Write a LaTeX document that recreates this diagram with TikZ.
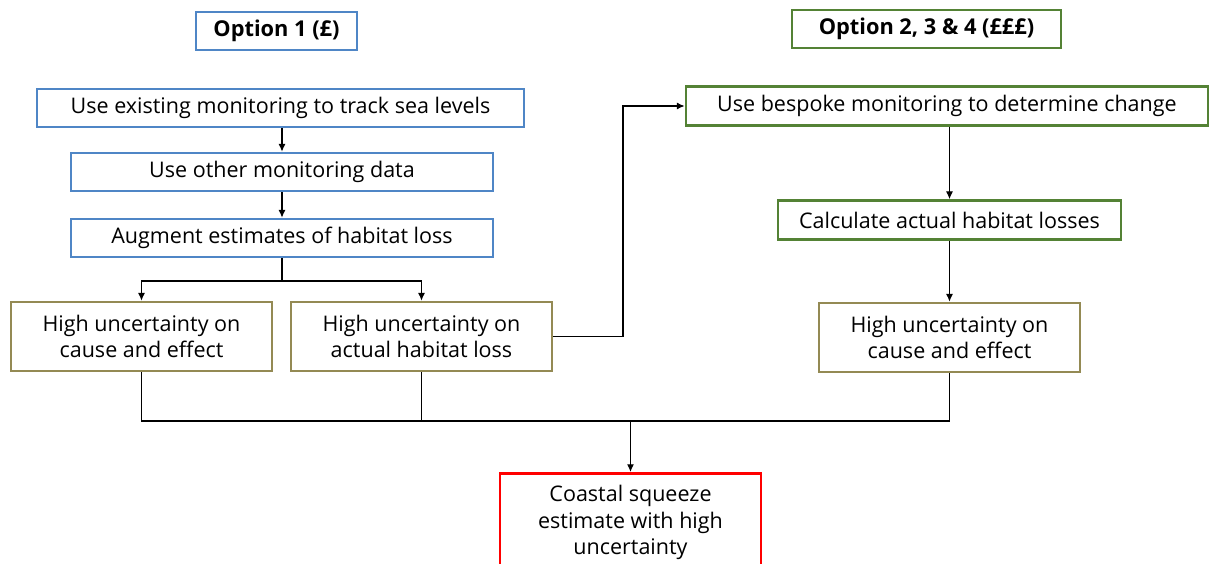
\documentclass[tikz,border=0pt]{standalone}
\usepackage{fontspec}
\setmainfont{Open Sans}
\usetikzlibrary{arrows.meta}
\definecolor{optblue}{HTML}{4F86C6}
\definecolor{optgreen}{HTML}{548235}
\definecolor{optolive}{HTML}{948A54}
\begin{document}
\begin{tikzpicture}
[x=0.025cm,y=-0.025cm,>={Latex[length=5.5pt,width=5pt]},
box/.style={draw,line width=1.9pt,align=center,inner sep=0pt,font=\fontsize{15.3}{19}\selectfont},
bluebox/.style={box,draw=optblue},
greenbox/.style={box,draw=optgreen},
olivebox/.style={box,draw=optolive,minimum width=6.525cm,minimum height=1.725cm},
title/.style={minimum height=0.95cm,font=\fontsize{15.5}{18}\selectfont\bfseries},
link/.style={line width=0.8pt}]
\clip (0,0) rectangle (1210,564);

\node[bluebox,title,minimum width=4.025cm] (opt1) at (276.5,31) {Option 1 (£)};
\node[greenbox,title,minimum width=6.725cm] (opt2) at (926.5,29) {Option 2, 3 \& 4 (£££)};

\node[bluebox,minimum width=12.175cm,minimum height=0.95cm] (track) at (280.5,108) {Use existing monitoring to track sea levels};
\node[bluebox,minimum width=10.55cm,minimum height=0.95cm] (other) at (282,172) {Use other monitoring data};
\node[bluebox,minimum width=10.55cm,minimum height=0.95cm] (augment) at (282,238) {Augment estimates of habitat loss};

\node[olivebox] (cause1) at (141.5,336.5) {High uncertainty on\\cause and effect};
\node[olivebox] (actual) at (421.5,336.5) {High uncertainty on\\actual habitat loss};

\node[greenbox,minimum width=13.05cm,minimum height=0.975cm] (bespoke) at (947,106) {Use bespoke monitoring to determine change};
\node[greenbox,minimum width=8.575cm,minimum height=0.975cm] (calc) at (949.5,220) {Calculate actual habitat losses};
\node[olivebox] (cause2) at (949.5,337.5) {High uncertainty on\\cause and effect};

\node[box,draw=red,minimum width=6.525cm,minimum height=2.9cm,anchor=north] (squeeze) at (630.5,472) {};
\node[align=center,font=\fontsize{15.3}{19}\selectfont,anchor=north] (squeezetxt) at (630.5,480) {Coastal squeeze\\estimate with high\\uncertainty};

\coordinate (split) at (282,281);
\coordinate (riser) at (623,220);
\coordinate (join) at (630.5,421);

\draw[link,->] (track.south -| other) -- (other.north);
\draw[link,->] (other.south) -- (augment.north);
\draw[link] (augment.south) -- (split);
\draw[link,->] (split) -| (cause1.north);
\draw[link,->] (split) -| (actual.north);
\draw[link,->] (actual.east) -| (riser) |- (bespoke.west);
\draw[link,->] (bespoke.south -| calc) -- (calc.north);
\draw[link,->] (calc.south) -- (cause2.north);

\draw[link] (cause1.south) |- (join);
\draw[link] (actual.south) |- (join);
\draw[link] (cause2.south) |- (join);
\draw[link,->] (join) -- (squeeze.north);
\end{tikzpicture}
\end{document}
